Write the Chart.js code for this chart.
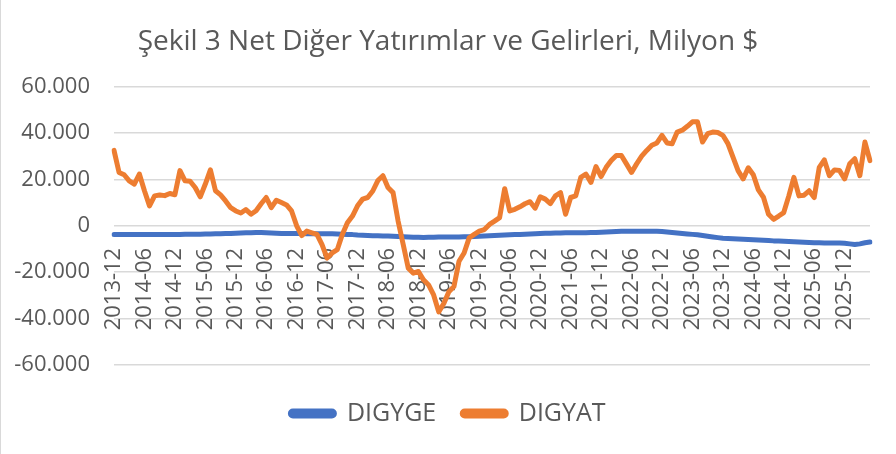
<!DOCTYPE html>
<html lang="tr">
<head>
<meta charset="utf-8">
<title>Şekil 3 Net Diğer Yatırımlar ve Gelirleri</title>
<script src="https://cdn.jsdelivr.net/npm/chart.js"></script>
<style>
    html, body { margin: 0; padding: 0; background: #ffffff; }
    #kutu { width: 896px; height: 454px; position: relative; }
    #kenar { position: absolute; left: 0; top: 0; width: 1px; height: 454px; background: #d9d9d9; }
</style>
</head>
<body>
<div id="kutu"><canvas id="grafik"></canvas><div id="kenar"></div></div>
<script>

    // aylik seri: 2013-12 ile baslar, 150 ay
    var baslangicYil = 2013;
    var baslangicAy = 12;

    var digyge = [
        -3700, -3700, -3700, -3700, -3700, -3700,
        -3700, -3700, -3700, -3700, -3700, -3700,
        -3700, -3700, -3600, -3600, -3600, -3600,
        -3500, -3500, -3400, -3400, -3300, -3300,
        -3200, -3100, -3000, -3000, -2900, -2900,
        -3000, -3100, -3200, -3300, -3300, -3300,
        -3300, -3300, -3400, -3400, -3400, -3400,
        -3400, -3400, -3500, -3600, -3700, -3800,
        -4000, -4100, -4200, -4300, -4300, -4400,
        -4400, -4500, -4600, -4700, -4800, -4900,
        -4900, -5000, -4900, -4900, -4800, -4800,
        -4800, -4800, -4800, -4700, -4700, -4600,
        -4500, -4400, -4300, -4200, -4100, -4000,
        -3900, -3800, -3700, -3600, -3500, -3400,
        -3300, -3200, -3200, -3100, -3100, -3000,
        -3000, -3000, -3000, -3000, -2900, -2900,
        -2800, -2700, -2600, -2500, -2400, -2300,
        -2300, -2300, -2300, -2300, -2300, -2400,
        -2500, -2700, -2900, -3100, -3300, -3500,
        -3700, -3900, -4200, -4500, -4800, -5100,
        -5400, -5500, -5600, -5700, -5800, -5900,
        -6000, -6100, -6200, -6300, -6500, -6600,
        -6700, -6800, -6900, -7000, -7100, -7200,
        -7300, -7300, -7400, -7400, -7400, -7400,
        -7500, -7800, -8100, -7800, -7300, -7000
    ];

    var digyat = [
        32500, 23000, 22000, 19400, 18000, 22300,
        15100, 8600, 12900, 13300, 13000, 13900,
        13400, 23800, 19400, 19200, 16500, 12500,
        18000, 24100, 15100, 13300, 10700, 7800,
        6400, 5500, 7000, 5000, 6500, 9500,
        12200, 7800, 11000, 10000, 9000, 6400,
        0, -4200, -2300, -3000, -3700, -8100,
        -13900, -11700, -10300, -3700, 1300, 4200,
        8600, 11500, 12200, 15000, 19500, 21600,
        16500, 14300, 2000, -8100, -18300, -20400,
        -19700, -23300, -25500, -29800, -37100, -33500,
        -28400, -26200, -15300, -11700, -5200, -3700,
        -2300, -1600, 600, 2000, 3500, 16000,
        6400, 7100, 8200, 9500, 10400, 7600,
        12500, 11500, 9600, 12900, 14300, 5000,
        12200, 12900, 20900, 22300, 18700, 25500,
        21200, 25200, 28100, 30300, 30300, 26700,
        23000, 26700, 30000, 32500, 34700, 35700,
        39000, 35700, 35400, 40400, 41200, 42900,
        44800, 44800, 36100, 39700, 40400, 40200,
        39000, 35400, 29600, 23800, 20200, 25000,
        22000, 15500, 12300, 5000, 2800, 4200,
        5700, 12900, 20900, 12900, 13200, 15100,
        12200, 25200, 28400, 21600, 24100, 23800,
        20200, 26700, 28900, 21600, 36100, 28100
    ];

    var yTikler = [-60000, -40000, -20000, 0, 20000, 40000, 60000];

    // ay etiketleri: "2013-12", "2014-01", ...
    var aylar = [];
    var yil = baslangicYil;
    var ay = baslangicAy;
    for (var i = 0; i < digyat.length; i++) {
        aylar.push(yil + '-' + (ay < 10 ? '0' + ay : ay));
        ay++;
        if (ay > 12) {
            ay = 1;
            yil++;
        }
    }

    // 60000 -> "60.000"
    function binlik(v) {
        if (v === 0) return '0';
        var s = Math.abs(v).toString().replace(/\B(?=(\d{3})+(?!\d))/g, '.');
        return (v < 0 ? '-' : '') + s;
    }

    var gri = '#595959';
    var yazi = "'Open Sans', 'Noto Sans', sans-serif";

    var ctx = document.getElementById('grafik');
    var chart = new Chart(ctx, {
        type: 'line',
        data: {
            labels: aylar,
            datasets: [{
                label: 'DIGYGE',
                data: digyge,
                borderColor: '#4472C4',
                backgroundColor: '#4472C4',
                borderWidth: 5,
                pointRadius: 0,
                borderJoinStyle: 'round',
                borderCapStyle: 'round',
                order: 2
            }, {
                label: 'DIGYAT',
                data: digyat,
                borderColor: '#ED7D31',
                backgroundColor: '#ED7D31',
                borderWidth: 5,
                pointRadius: 0,
                borderJoinStyle: 'round',
                borderCapStyle: 'round',
                order: 1
            }]
        },
        options: {
            responsive: true,
            maintainAspectRatio: false,
            animation: false,
            layout: {
                padding: { left: 0, right: 0, top: 0, bottom: 18 }
            },
            plugins: {
                title: {
                    display: true,
                    text: 'Şekil 3 Net Diğer Yatırımlar ve Gelirleri, Milyon $',
                    color: gri,
                    font: { family: yazi, size: 28, weight: 'normal' },
                    padding: { top: 25, bottom: 28 }
                },
                legend: {
                    position: 'bottom',
                    // bos baslik: grafik ile lejant arasina bosluk
                    title: {
                        display: true,
                        text: ' ',
                        font: { size: 10, lineHeight: 1 },
                        padding: 0
                    },
                    labels: {
                        color: gri,
                        font: { family: yazi, size: 25 },
                        boxWidth: 44,
                        boxHeight: 5,
                        padding: 26,
                        useBorderRadius: true,
                        borderRadius: 2.5,
                        sort: function (a, b) { return a.datasetIndex - b.datasetIndex; }
                    }
                },
                tooltip: { enabled: false }
            },
            scales: {
                x: {
                    position: { y: 0 },
                    grid: { display: false },
                    border: { display: false },
                    ticks: {
                        autoSkip: false,
                        maxRotation: 90,
                        minRotation: 90,
                        padding: 14,
                        color: gri,
                        font: { family: yazi, size: 22 },
                        callback: function (val, index) {
                            return index % 6 === 0 ? this.getLabelForValue(val) : null;
                        }
                    },
                    afterFit: function (scale) {
                        scale.height = 64;
                    }
                },
                y: {
                    min: -60000,
                    max: 60000,
                    afterBuildTicks: function (scale) {
                        scale.ticks = yTikler.map(function (v) { return { value: v }; });
                    },
                    afterFit: function (scale) {
                        scale.width = 114;
                    },
                    grid: {
                        color: '#d9d9d9',
                        lineWidth: 1.5,
                        drawTicks: false
                    },
                    border: { display: false },
                    ticks: {
                        padding: 24,
                        color: gri,
                        font: { family: yazi, size: 22 },
                        callback: function (v) { return binlik(v); }
                    }
                },
                // sag tarafta bos pay icin gorunmez eksen
                sag: {
                    type: 'linear',
                    position: 'right',
                    grid: { display: false },
                    border: { display: false },
                    ticks: { display: false },
                    afterFit: function (scale) {
                        scale.width = 26;
                    }
                }
            }
        }
    });

</script>
</body>
</html>
